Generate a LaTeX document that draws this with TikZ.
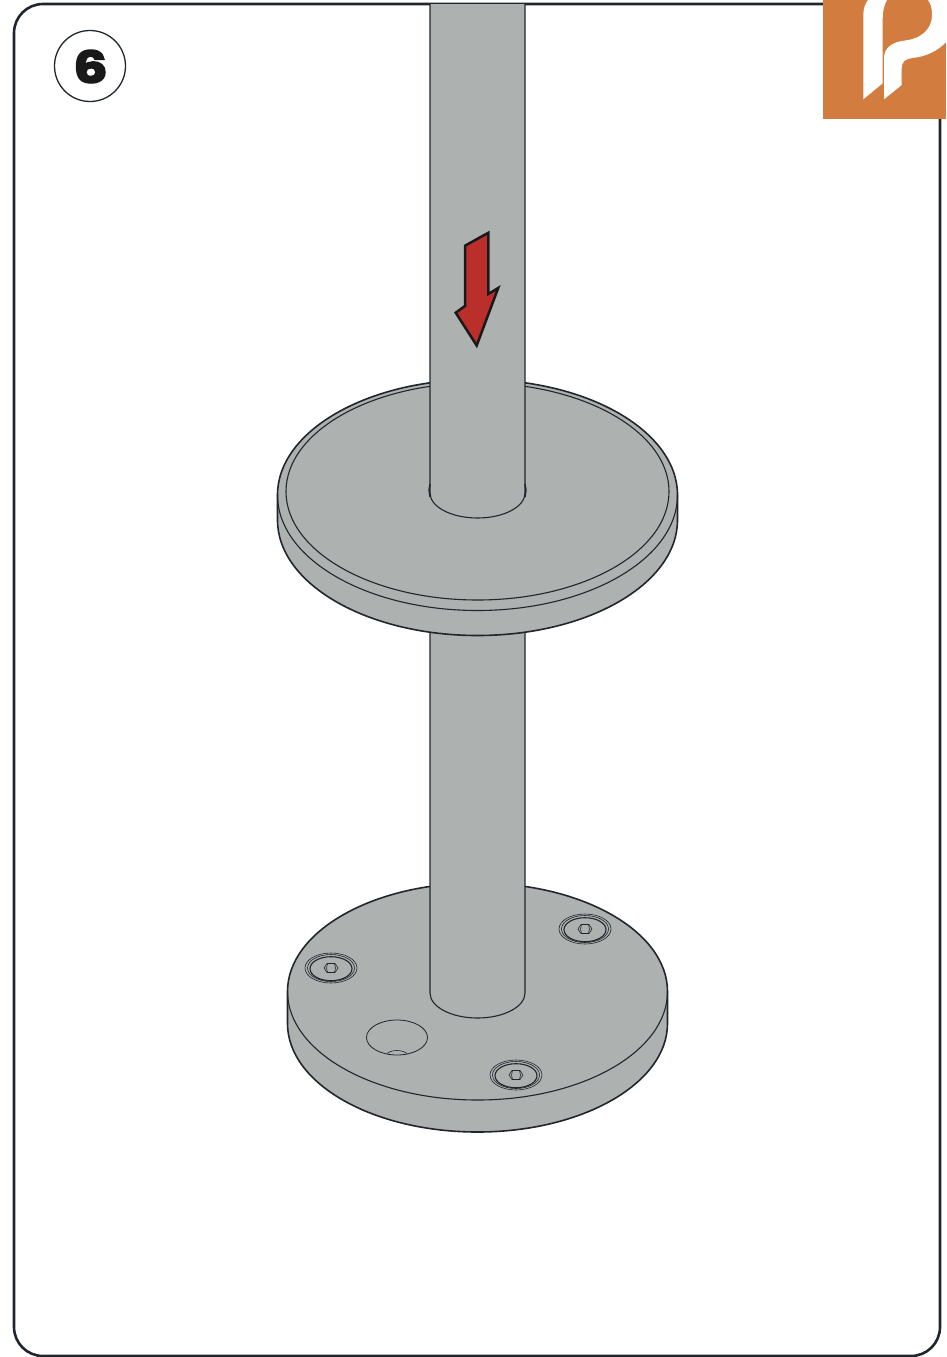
\documentclass[tikz,border=0pt]{standalone}
\usepackage{fontspec}
\usepackage{xcolor}
\usetikzlibrary{math}
\newfontfamily\stepfont[FakeBold=3.5]{Poppins Bold}
\definecolor{mysteel}{RGB}{173,177,175}
\definecolor{myink}{RGB}{32,38,46}
\definecolor{myred}{RGB}{187,47,43}
\definecolor{myorange}{RGB}{210,125,63}
\tikzset{
part/.style={fill=mysteel, draw=myink, line width=1.6pt, line join=round},
edge/.style={draw=myink, line width=1.1pt},
fine/.style={draw=myink, line width=0.6pt},
}
\begin{document}
\begin{tikzpicture}[x=1pt,y=-1pt]
\tikzmath{
\cx=477.5;
\R=200; \Ry=115.5;
\r=190; \ry=108.5;
\pw=47.5; \py=25;
}
\useasboundingbox (0,0) rectangle (946,1357);

% frame and step number
\draw[color=myink, line width=2.6pt, rounded corners=29pt] (14,4) rectangle (940,1356);
\draw[color=myink, line width=1.3pt] (90,66) circle (35.5pt);
\node[color=black!90, font=\stepfont\fontsize{44}{44}\selectfont, inner sep=0pt] (stepnum) at (90.5,66.5) {\scalebox{1.22}[1]{6}};

% lower plate
\path[part] (\cx-\r,991.5) -- (\cx-\r,1023.5) arc[start angle=180, end angle=360, x radius=\r pt, y radius=\ry pt]
-- (\cx+\r,991.5) arc[start angle=0, end angle=180, x radius=\r pt, y radius=\ry pt] -- cycle;
\draw[edge] (\cx-\r,991.5) arc[start angle=180, end angle=360, x radius=\r pt, y radius=\ry pt];

% lower post
\path[fill=mysteel] (\cx-\pw,620) rectangle (\cx+\pw,993);
\path[fill=mysteel] (\cx,993) ellipse (\pw pt and \py pt);
\draw[edge] (\cx-\pw,620) -- (\cx-\pw,993) arc[start angle=180, end angle=360, x radius=\pw pt, y radius=\py pt] -- (\cx+\pw,620);

% screws and hole
\foreach \sx/\sy in {331/968,585/929,516/1075}{
\begin{scope}[shift={(\sx,\sy)}]
\draw[fine] (0,0) ellipse (26pt and 15pt);
\draw[fine] (0,0) ellipse (23.5pt and 13.5pt);
\draw[edge] (0,0.7) ellipse (21pt and 12pt);
\draw[fine] (-7,0) -- (-4,-4.5) -- (4,-4.5) -- (7,0) -- (4,4.5) -- (-4,4.5) -- cycle;
\draw[fine] (-3.5,-4.5) -- (-4.5,0) -- (-3.5,4.5);
\draw[fine] (3.5,-4.5) -- (4.5,0) -- (3.5,4.5);
\end{scope}
}
\draw[fine, line width=0.8pt] (397,1037.5) ellipse (30.5pt and 17.5pt);
\draw[fine] (387,1053.5) .. controls (392,1049.5) and (402,1049.5) .. (407,1053.5);

% upper plate
\path[part] (\cx-\R,495) -- (\cx-\R,520) arc[start angle=180, end angle=360, x radius=\R pt, y radius=\Ry pt]
-- (\cx+\R,495) arc[start angle=0, end angle=180, x radius=\R pt, y radius=\Ry pt] -- cycle;
\draw[edge] (\cx-\R,495) arc[start angle=180, end angle=360, x radius=\R pt, y radius=\Ry pt];
\draw[edge] (\cx,491.5) ellipse (191.5pt and 108.5pt);

% upper post
\path[fill=mysteel] (\cx-\pw,4) rectangle (\cx+\pw,493);
\path[fill=mysteel] (\cx,493) ellipse (\pw pt and \py pt);
\draw[edge] (\cx-\pw,4) -- (\cx-\pw,493) arc[start angle=180, end angle=360, x radius=\pw pt, y radius=\py pt] -- (\cx+\pw,4);
\draw[edge, line width=1.4pt] (\cx-\pw,484) -- (\cx-\pw-1,490) -- (\cx-\pw,497);
\draw[edge, line width=1.4pt] (\cx+\pw,484) -- (\cx+\pw+1,490) -- (\cx+\pw,497);

% arrow
\draw[fill=myred, draw=black!90, line width=2.5pt, miter limit=6] (488.3,232.8) -- (465,245.7) -- (465,306) -- (455.7,312.7) -- (476.7,345.5) -- (498.2,288) -- (488.3,294) -- cycle;

% logo
\fill[color=myorange] (823,0) rectangle (946,119);
\fill[color=white] (868,0) .. controls (865,4) and (863.3,9) .. (863.3,15) -- (863.3,99.3) -- (882.7,83.3) -- (882.7,20) .. controls (882.7,11) and (884,5) .. (887,0) -- cycle;
\fill[color=white] (884,99.3) -- (884,58) .. controls (884,48) and (892,42) .. (905,40.5)
.. controls (920,39) and (932,30) .. (932,15) .. controls (932,9) and (931,4) .. (928,0)
-- (946,0) -- (946,42) .. controls (938,51) and (925,57) .. (912,58)
.. controls (905,59) and (901.7,62) .. (901.7,68) -- (901.7,85) -- cycle;
\end{tikzpicture}
\end{document}
